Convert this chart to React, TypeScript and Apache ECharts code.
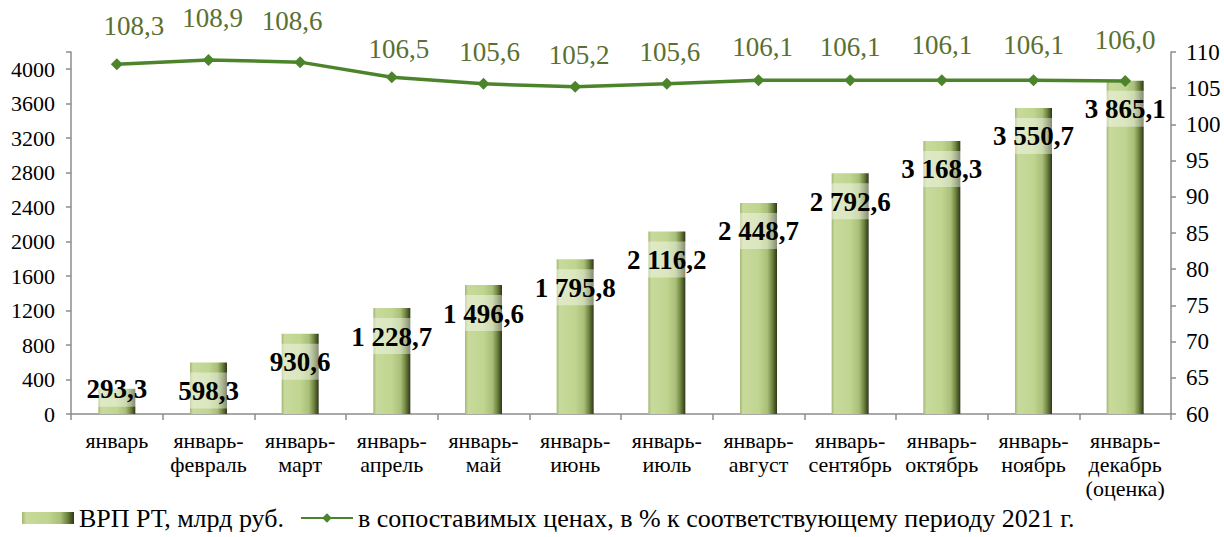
import React, { useEffect, useRef } from "react";
import * as echarts from "echarts";

const categories = [
  "январь",
  "январь-\nфевраль",
  "январь-\nмарт",
  "январь-\nапрель",
  "январь-\nмай",
  "январь-\nиюнь",
  "январь-\nиюль",
  "январь-\nавгуст",
  "январь-\nсентябрь",
  "январь-\nоктябрь",
  "январь-\nноябрь",
  "январь-\nдекабрь\n(оценка)",
];
const grpValues = [293.3, 598.3, 930.6, 1228.7, 1496.6, 1795.8, 2116.2, 2448.7, 2792.6, 3168.3, 3550.7, 3865.1];
const indexValues = [108.3, 108.9, 108.6, 106.5, 105.6, 105.2, 105.6, 106.1, 106.1, 106.1, 106.1, 106.0];
const barName = "ВРП РТ, млрд руб.";
const lineName = "в сопоставимых ценах, в % к соответствующему периоду 2021 г.";
// label placement tweaks (px) for the index labels, as placed in the reference
const lineLabelLift = [19, 22, 22, 9, 12, 12, 12, 14, 14, 16, 16, 21];
const lineLabelShift = [17, 4, -8, 7, 6, 4, 3, 4, 0, 0, 0, 0];

const fmt = (v: number, group: boolean) => {
  const [i, d] = v.toFixed(1).split(".");
  const ip = group ? i.replace(/\B(?=(\d{3})+(?!\d))/g, " ") : i;
  return ip + "," + d;
};

const SERIF = "Liberation Serif, Times New Roman, serif";

export default function App() {
  const ref = useRef<HTMLDivElement>(null);
  useEffect(() => {
    if (!ref.current) return;
    const chart = echarts.init(ref.current, undefined, { renderer: "svg" });
    const barGradient = new echarts.graphic.LinearGradient(0, 0, 1, 0, [
      { offset: 0, color: "#a3b771" },
      { offset: 0.08, color: "#c8da9c" },
      { offset: 0.5, color: "#c0d590" },
      { offset: 0.74, color: "#a9bf78" },
      { offset: 0.87, color: "#6f8540" },
      { offset: 1, color: "#2e3718" },
    ]);
    chart.setOption({
      animation: false,
      textStyle: { fontFamily: SERIF },
      grid: { left: 71, right: 53, top: 52, bottom: 123, containLabel: false },
      legend: {
        top: 504,
        left: 22,
        itemWidth: 52,
        itemHeight: 12,
        itemGap: 16,
        padding: 0,
        textStyle: { fontFamily: SERIF, fontSize: 26, lineHeight: 28, color: "#000" },
        data: [
          { name: barName, icon: "rect" },
          { name: lineName },
        ],
      },
      xAxis: {
        type: "category",
        data: categories,
        axisLine: { lineStyle: { color: "#8c8c8c", width: 1.5 } },
        axisTick: { show: true, length: 6, lineStyle: { color: "#8c8c8c", width: 1.5 } },
        axisLabel: {
          color: "#000",
          fontFamily: SERIF,
          fontSize: 22,
          lineHeight: 24,
          margin: 14,
          interval: 0,
        },
      },
      yAxis: [
        {
          type: "value",
          min: 0,
          max: 4200,
          interval: 400,
          splitLine: { show: false },
          axisLine: { show: true, lineStyle: { color: "#8c8c8c", width: 1.5 } },
          axisTick: { show: true, length: 5, lineStyle: { color: "#8c8c8c", width: 1.5 } },
          axisLabel: {
            color: "#000",
            fontFamily: SERIF,
            fontSize: 22,
            margin: 16,
            formatter: (v: number) => (v > 4000 ? "" : String(v)),
          },
        },
        {
          type: "value",
          min: 60,
          max: 110,
          interval: 5,
          position: "right",
          splitLine: { show: false },
          axisLine: { show: true, lineStyle: { color: "#8c8c8c", width: 1.5 } },
          axisTick: { show: true, length: 5, lineStyle: { color: "#8c8c8c", width: 1.5 } },
          axisLabel: { color: "#000", fontFamily: SERIF, fontSize: 23, margin: 15 },
        },
      ],
      series: [
        {
          name: barName,
          type: "bar",
          yAxisIndex: 0,
          barWidth: 37,
          itemStyle: { color: barGradient },
          z: 2,
          data: grpValues.map((v, i) => ({
            value: v,
            label:
              i === 0
                ? { position: "insideTop", distance: -18 }
                : { position: "insideTop", distance: 10 },
          })),
          label: {
            show: true,
            position: "insideTop",
            distance: 10,
            color: "#000",
            fontFamily: SERIF,
            fontWeight: "bold",
            fontSize: 27,
            backgroundColor: "rgba(255,255,255,0.42)",
            padding: [5, 3, 4, 3],
            formatter: (p: any) => fmt(p.value, true),
          },
        },
        {
          name: lineName,
          type: "line",
          yAxisIndex: 1,
          symbol: "diamond",
          symbolSize: 12,
          z: 3,
          lineStyle: { color: "#4c842c", width: 3.5 },
          itemStyle: { color: "#4c842c" },
          data: indexValues.map((v, i) => ({
            value: v,
            label: { distance: lineLabelLift[i], offset: [lineLabelShift[i], 0] },
          })),
          label: {
            show: true,
            position: "top",
            color: "#5a7030",
            fontFamily: SERIF,
            fontSize: 27,
            formatter: (p: any) => fmt(p.value, false),
          },
        },
      ],
    });
    return () => chart.dispose();
  }, []);
  return (
    <div
      ref={ref}
      style={{ position: "fixed", left: 0, top: 0, width: 1224, height: 537, background: "#fff" }}
    />
  );
}
